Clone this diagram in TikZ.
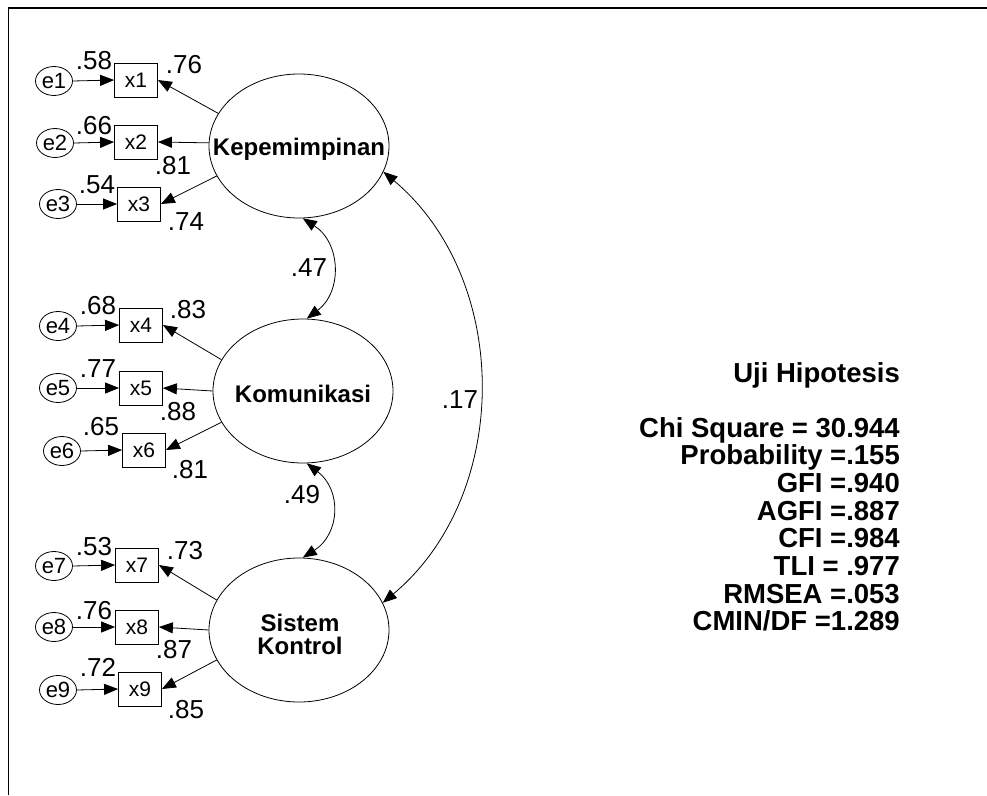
\documentclass[tikz,border=0pt]{standalone}
\usepackage{fontspec}
\setmainfont{Liberation Sans}
\usetikzlibrary{shapes.geometric,arrows.meta}
\tikzset{
  lat/.style={draw, ellipse, line width=0.8pt, minimum width=180pt, minimum height=144pt, inner sep=0pt},
  latxt/.style={inner sep=0pt, align=center, font=\fontsize{24}{23}\selectfont\bfseries},
  obs/.style={draw, rectangle, line width=0.8pt, minimum width=43pt, minimum height=34pt, inner sep=0pt, font=\fontsize{21}{24}\selectfont},
  err/.style={draw, ellipse, line width=0.8pt, minimum width=37pt, minimum height=29pt, inner sep=0pt, font=\fontsize{22}{24}\selectfont},
  coef/.style={inner sep=0pt, font=\fontsize{26}{30}\selectfont},
  stat/.style={anchor=base east, inner sep=0pt, font=\fontsize{27.5}{28}\selectfont\bfseries},
  pth/.style={-{Triangle[length=14pt,width=11pt]}, line width=0.8pt},
  cov/.style={{Triangle[length=14pt,width=11pt]}-{Triangle[length=14pt,width=11pt]}, line width=0.8pt},
}
\begin{document}
\begin{tikzpicture}[x=1pt,y=-1pt]
\useasboundingbox (0,0) rectangle (987,795);
\draw[line width=1.6pt] (987,8) -- (8.5,8) -- (8.5,795);

% latent variables
\node[lat] (K) at (299,146) {};
\node[lat] (M) at (303,391) {};
\node[lat] (S) at (299,630) {};
\node[latxt] (Kt) at (299,149) {Kepemimpinan};
\node[latxt] (Mt) at (303,394) {Komunikasi};
\node[latxt] (St) at (300,634) {Sistem\\Kontrol};

% observed
\node[obs] (x1) at (136,80) {x1};
\node[obs] (x2) at (136,142) {x2};
\node[obs] (x3) at (139,204) {x3};
\node[obs] (x4) at (141,325) {x4};
\node[obs] (x5) at (141,388) {x5};
\node[obs] (x6) at (144,450) {x6};
\node[obs] (x7) at (137,565) {x7};
\node[obs] (x8) at (137,627) {x8};
\node[obs] (x9) at (140,689) {x9};

% errors
\node[err] (e1) at (54,81) {e1};
\node[err] (e2) at (55,143) {e2};
\node[err] (e3) at (58,204) {e3};
\node[err] (e4) at (58,326) {e4};
\node[err] (e5) at (58,388) {e5};
\node[err] (e6) at (62,451) {e6};
\node[err] (e7) at (54,566) {e7};
\node[err] (e8) at (54,627) {e8};
\node[err] (e9) at (58,690) {e9};

% error paths
\foreach \i in {1,...,9} {
  \draw[pth] (e\i.east) -- (x\i.west);
}

% loadings
\draw[pth] (K.158) -- (x1.east);
\draw[pth] (K.178) -- (x2.east);
\draw[pth] (K.200) -- (x3.east);
\draw[pth] (M.159) -- (x4.east);
\draw[pth] (M.180) -- (x5.east);
\draw[pth] (M.201) -- (x6.east);
\draw[pth] (S.160) -- (x7.east);
\draw[pth] (S.180) -- (x8.east);
\draw[pth] (S.200) -- (x9.east);

% covariances
\draw[cov] (K.273) to[bend left=55, looseness=1.15] (M.87);
\draw[cov] (M.273) to[bend left=55, looseness=1.2] (S.87);
\draw[cov] (K.343) to[bend left=50] (S.18);

% coefficient labels
\node[coef] (c1) at (94,61) {.58};
\node[coef] (c2) at (184,65) {.76};
\node[coef] (c3) at (94,126) {.66};
\node[coef] (c4) at (173,166) {.81};
\node[coef] (c5) at (97,185) {.54};
\node[coef] (c6) at (186,222) {.74};
\node[coef] (c7) at (98,306) {.68};
\node[coef] (c8) at (188,310) {.83};
\node[coef] (c9) at (98,369) {.77};
\node[coef] (c10) at (178,412) {.88};
\node[coef] (c11) at (101,427) {.65};
\node[coef] (c12) at (190,470) {.81};
\node[coef] (c13) at (94,547) {.53};
\node[coef] (c14) at (185,551) {.73};
\node[coef] (c15) at (94,611) {.76};
\node[coef] (c16) at (174,650) {.87};
\node[coef] (c17) at (98,667) {.72};
\node[coef] (c18) at (186,710) {.85};
\node[coef] (c19) at (309,268) {.47};
\node[coef] (c20) at (302,495) {.49};
\node[coef] (c21) at (460,400) {.17};

% statistics
\node[stat] (s0) at (900,382) {Uji Hipotesis};
\node[stat] (s1) at (900,437) {Chi Square = 30.944};
\node[stat] (s2) at (900,464.7) {Probability =.155};
\node[stat] (s3) at (900,492.4) {GFI =.940};
\node[stat] (s4) at (900,520.1) {AGFI =.887};
\node[stat] (s5) at (900,547.8) {CFI =.984};
\node[stat] (s6) at (900,575.5) {TLI = .977};
\node[stat] (s7) at (900,603.2) {RMSEA =.053};
\node[stat] (s8) at (900,630.9) {CMIN/DF =1.289};
\end{tikzpicture}
\end{document}
